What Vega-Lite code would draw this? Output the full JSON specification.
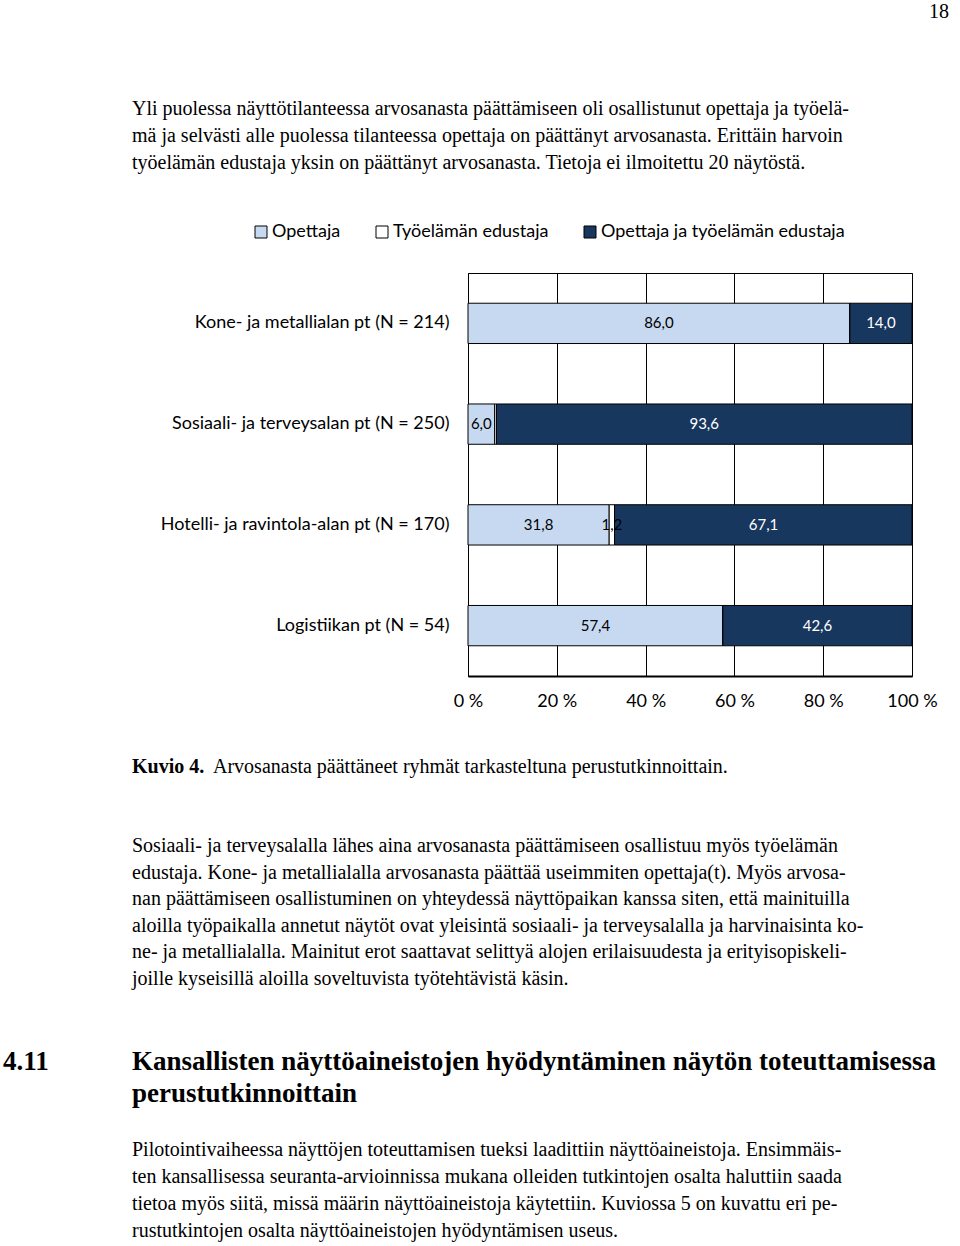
{
  "$schema": "https://vega.github.io/schema/vega-lite/v6.json",
  "padding": {"left": 3, "top": 0, "right": 0, "bottom": 0},
  "spacing": 0,
  "background": "white",
  "config": {
    "view": {"stroke": null},
    "locale": {"number": {"decimal": ",", "thousands": "\u00a0", "grouping": [3], "currency": ["", "\u00a0€"]}},
    "axis": {"labelFont": "Lato", "labelColor": "black", "labelFontSize": 18},
    "legend": {"labelFont": "Lato", "labelColor": "black", "labelFontSize": 18},
    "text": {"font": "Liberation Serif", "fontSize": 20, "color": "black"}
  },
  "vconcat": [
    {
      "width": 444,
      "height": 272,
      "layer": [
        {
          "data": {"values": [{"t": "18"}]},
          "mark": {"type": "text", "align": "right", "baseline": "middle", "fontSize": 20},
          "encoding": {"text": {"field": "t"}, "x": {"value": 481}, "y": {"value": 12}}
        },
        {
          "data": {"values": [
            {"i": 1, "t": "Yli puolessa näyttötilanteessa arvosanasta päättämiseen oli osallistunut opettaja ja työelä-"},
            {"i": 2, "t": "mä ja selvästi alle puolessa tilanteessa opettaja on päättänyt arvosanasta. Erittäin harvoin"},
            {"i": 3, "t": "työelämän edustaja yksin on päättänyt arvosanasta. Tietoja ei ilmoitettu 20 näytöstä."}
          ]},
          "mark": {"type": "text", "align": "left", "baseline": "middle"},
          "encoding": {
            "text": {"field": "t"},
            "x": {"value": -336},
            "y": {"field": "i", "type": "ordinal", "axis": null, "scale": {"type": "point", "range": [109, 163], "padding": 0}}
          }
        }
      ]
    },
    {
      "width": 444,
      "height": 403,
      "view": {"stroke": "black", "strokeWidth": 1},
      "data": {"values": [
        {"ala": "Kone- ja metallialan pt (N = 214)", "ryhma": "Opettaja", "k": 1, "osuus": 86.0},
        {"ala": "Kone- ja metallialan pt (N = 214)", "ryhma": "Työelämän edustaja", "k": 2, "osuus": 0.0},
        {"ala": "Kone- ja metallialan pt (N = 214)", "ryhma": "Opettaja ja työelämän edustaja", "k": 3, "osuus": 14.0},
        {"ala": "Sosiaali- ja terveysalan pt (N = 250)", "ryhma": "Opettaja", "k": 1, "osuus": 6.0},
        {"ala": "Sosiaali- ja terveysalan pt (N = 250)", "ryhma": "Työelämän edustaja", "k": 2, "osuus": 0.4},
        {"ala": "Sosiaali- ja terveysalan pt (N = 250)", "ryhma": "Opettaja ja työelämän edustaja", "k": 3, "osuus": 93.6},
        {"ala": "Hotelli- ja ravintola-alan pt (N = 170)", "ryhma": "Opettaja", "k": 1, "osuus": 31.8},
        {"ala": "Hotelli- ja ravintola-alan pt (N = 170)", "ryhma": "Työelämän edustaja", "k": 2, "osuus": 1.2},
        {"ala": "Hotelli- ja ravintola-alan pt (N = 170)", "ryhma": "Opettaja ja työelämän edustaja", "k": 3, "osuus": 67.1},
        {"ala": "Logistiikan pt (N = 54)", "ryhma": "Opettaja", "k": 1, "osuus": 57.4},
        {"ala": "Logistiikan pt (N = 54)", "ryhma": "Työelämän edustaja", "k": 2, "osuus": 0.0},
        {"ala": "Logistiikan pt (N = 54)", "ryhma": "Opettaja ja työelämän edustaja", "k": 3, "osuus": 42.6}
      ]},
      "encoding": {
        "y": {
          "field": "ala", "type": "nominal",
          "sort": ["Kone- ja metallialan pt (N = 214)", "Sosiaali- ja terveysalan pt (N = 250)", "Hotelli- ja ravintola-alan pt (N = 170)", "Logistiikan pt (N = 54)"],
          "scale": {"paddingInner": 0.6, "paddingOuter": 0.3},
          "axis": {"title": null, "ticks": false, "domain": false, "labelPadding": 19, "labelLimit": 400}
        },
        "x": {
          "field": "osuus", "type": "quantitative", "stack": "zero",
          "scale": {"domain": [0, 100], "clamp": true, "nice": false},
          "axis": {"title": null, "values": [0, 20, 40, 60, 80, 100], "grid": true, "gridColor": "black", "gridOpacity": 1, "gridWidth": 1, "ticks": false, "domainColor": "black", "domainWidth": 2, "labelPadding": 16, "labelFlush": false, "labelExpr": "datum.value + ' %'"}
        },
        "order": {"field": "k", "type": "quantitative"}
      },
      "layer": [
        {
          "mark": {"type": "bar", "stroke": "black", "strokeWidth": 1},
          "encoding": {
            "color": {
              "field": "ryhma", "type": "nominal",
              "scale": {"domain": ["Opettaja", "Työelämän edustaja", "Opettaja ja työelämän edustaja"], "range": ["#C6D9F1", "#FFFFFF", "#17375E"]},
              "legend": {"orient": "none", "legendX": -216, "legendY": 223, "direction": "horizontal", "title": null, "symbolType": "square", "symbolSize": 144, "symbolStrokeColor": "black", "symbolStrokeWidth": 1, "symbolOpacity": 1, "columnPadding": 32, "labelOffset": 2, "labelLimit": 400, "padding": 0}
            }
          }
        },
        {
          "mark": {"type": "text", "font": "Lato", "fontSize": 15, "baseline": "middle"},
          "encoding": {
            "x": {"field": "osuus", "type": "quantitative", "stack": "zero", "bandPosition": 0.5},
            "text": {"condition": {"test": "datum.osuus < 1", "value": ""}, "field": "osuus", "type": "quantitative", "format": ".1f"},
            "color": {"condition": {"test": "datum.ryhma === 'Opettaja ja työelämän edustaja'", "value": "white"}, "value": "black"}
          }
        }
      ]
    },
    {
      "width": 444,
      "height": 535,
      "resolve": {"scale": {"y": "independent"}},
      "layer": [
        {
          "data": {"values": [{"t": "Kuvio 4."}]},
          "mark": {"type": "text", "align": "left", "baseline": "middle", "fontWeight": "bold"},
          "encoding": {"text": {"field": "t"}, "x": {"value": -336}, "y": {"value": 56}}
        },
        {
          "data": {"values": [{"t": "Arvosanasta päättäneet ryhmät tarkasteltuna perustutkinnoittain."}]},
          "mark": {"type": "text", "align": "left", "baseline": "middle"},
          "encoding": {"text": {"field": "t"}, "x": {"value": -255}, "y": {"value": 56}}
        },
        {
          "data": {"values": [
            {"i": 1, "t": "Sosiaali- ja terveysalalla lähes aina arvosanasta päättämiseen osallistuu myös työelämän"},
            {"i": 2, "t": "edustaja. Kone- ja metallialalla arvosanasta päättää useimmiten opettaja(t). Myös arvosa-"},
            {"i": 3, "t": "nan päättämiseen osallistuminen on yhteydessä näyttöpaikan kanssa siten, että mainituilla"},
            {"i": 4, "t": "aloilla työpaikalla annetut näytöt ovat yleisintä sosiaali- ja terveysalalla ja harvinaisinta ko-"},
            {"i": 5, "t": "ne- ja metallialalla. Mainitut erot saattavat selittyä alojen erilaisuudesta ja erityisopiskeli-"},
            {"i": 6, "t": "joille kyseisillä aloilla soveltuvista työtehtävistä käsin."}
          ]},
          "mark": {"type": "text", "align": "left", "baseline": "middle"},
          "encoding": {
            "text": {"field": "t"},
            "x": {"value": -336},
            "y": {"field": "i", "type": "ordinal", "axis": null, "scale": {"type": "point", "range": [135, 268], "padding": 0}}
          }
        },
        {
          "data": {"values": [{"t": "4.11"}]},
          "mark": {"type": "text", "align": "left", "baseline": "middle", "fontWeight": "bold", "fontSize": 27},
          "encoding": {"text": {"field": "t"}, "x": {"value": -465}, "y": {"value": 351}}
        },
        {
          "data": {"values": [
            {"i": 1, "t": "Kansallisten näyttöaineistojen hyödyntäminen näytön toteuttamisessa"},
            {"i": 2, "t": "perustutkinnoittain"}
          ]},
          "mark": {"type": "text", "align": "left", "baseline": "middle", "fontWeight": "bold", "fontSize": 27},
          "encoding": {
            "text": {"field": "t"},
            "x": {"value": -336},
            "y": {"field": "i", "type": "ordinal", "axis": null, "scale": {"type": "point", "range": [351, 383], "padding": 0}}
          }
        },
        {
          "data": {"values": [
            {"i": 1, "t": "Pilotointivaiheessa näyttöjen toteuttamisen tueksi laadittiin näyttöaineistoja. Ensimmäis-"},
            {"i": 2, "t": "ten kansallisessa seuranta-arvioinnissa mukana olleiden tutkintojen osalta haluttiin saada"},
            {"i": 3, "t": "tietoa myös siitä, missä määrin näyttöaineistoja käytettiin. Kuviossa 5 on kuvattu eri pe-"},
            {"i": 4, "t": "rustutkintojen osalta näyttöaineistojen hyödyntämisen useus."}
          ]},
          "mark": {"type": "text", "align": "left", "baseline": "middle"},
          "encoding": {
            "text": {"field": "t"},
            "x": {"value": -336},
            "y": {"field": "i", "type": "ordinal", "axis": null, "scale": {"type": "point", "range": [439, 520], "padding": 0}}
          }
        }
      ]
    }
  ]
}
